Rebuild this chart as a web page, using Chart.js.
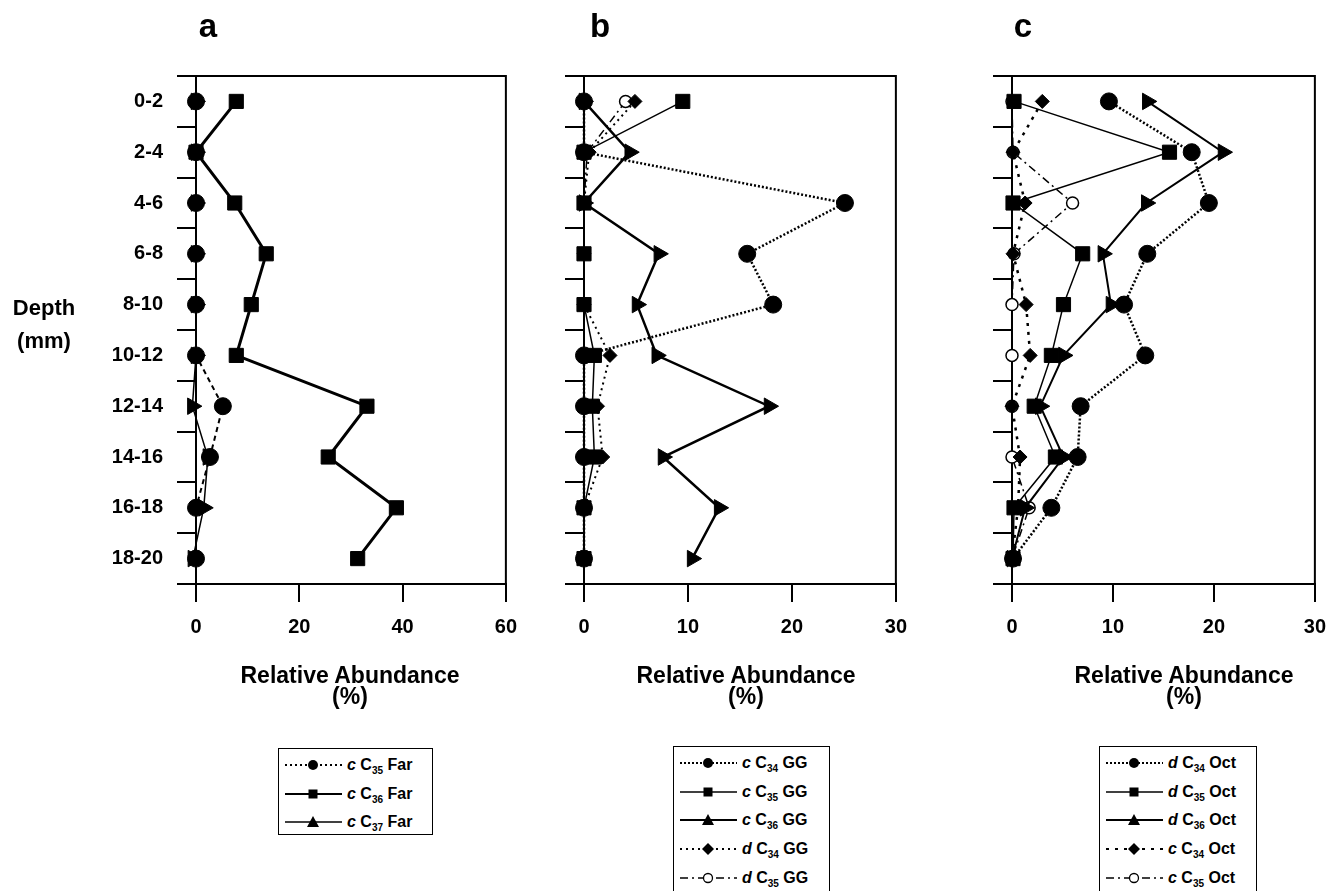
<!DOCTYPE html>
<html>
<head>
<meta charset="utf-8">
<script src="https://cdn.jsdelivr.net/npm/chart.js@4.4.1/dist/chart.umd.min.js"></script>
<style>
    body { margin: 0; background: #fff; }
    #page { position: relative; width: 1339px; height: 891px; overflow: hidden; background: #fff;
            font-family: "Liberation Sans", Arial, sans-serif; font-weight: bold; color: #000; }
    canvas { position: absolute; top: 0; }
    .txt { position: absolute; white-space: nowrap; line-height: 1; transform: translateX(-50%); text-align: center; }
    .letter { font-size: 33px; }
    .big { font-size: 22px; }
    .xtitle { font-size: 23px; line-height: 21px; }
    .legend { position: absolute; border: 1.5px solid #000; background: #fff; box-sizing: border-box; }
    .row { position: absolute; left: 0; height: 22px; display: flex; align-items: center; }
    .row svg { display: block; flex: none; }
    .row span { font-size: 16px; line-height: 1; margin-left: 4px; }
    .row sub { font-size: 10px; line-height: 0; vertical-align: -4px; }
</style>
</head>
<body>
<div id="page">
    <canvas id="chartA" width="530" height="720" style="left:0px"></canvas>
    <canvas id="chartB" width="380" height="720" style="left:540px"></canvas>
    <canvas id="chartC" width="379" height="720" style="left:960px"></canvas>

    <div class="txt letter" style="left:208px;top:9px">a</div>
    <div class="txt letter" style="left:600px;top:9px">b</div>
    <div class="txt letter" style="left:1023px;top:9px">c</div>

    <div class="txt big" style="left:44px;top:297px">Depth</div>
    <div class="txt big" style="left:44px;top:330px">(mm)</div>

    <div class="txt xtitle" style="left:350px;top:665px">Relative Abundance<br>(%)</div>
    <div class="txt xtitle" style="left:746px;top:665px">Relative Abundance<br>(%)</div>
    <div class="txt xtitle" style="left:1184px;top:665px">Relative Abundance<br>(%)</div>
</div>

<script>
// --- Data ---
const depthLabels = ['0-2', '2-4', '4-6', '6-8', '8-10', '10-12', '12-14', '14-16', '16-18', '18-20'];

// panel a
const farC35 = [0, 0, 0, 0, 0, 0, 5.2, 2.7, 0, 0];
const farC36 = [7.8, 0, 7.5, 13.6, 10.7, 7.8, 33.1, 25.6, 38.8, 31.3];
const farC37 = [0, 0, 0, 0, 0, 0, -0.7, 2.3, 1.5, -0.6];

// panel b
const ggC34c = [0, 0, 25.1, 15.7, 18.2, 0, 0, 0, 0, 0];
const ggC35c = [9.5, 0, 0, 0, 0, 1.0, 0.8, 1.0, 0, 0];
const ggC36c = [0, 4.4, 0, 7.2, 5.1, 7.0, 17.8, 7.6, 13.0, 10.4];
const ggC34d = [4.9, 0.5, 0, 0, 0, 2.5, 1.3, 1.8, 0, 0];
const ggC35d = [4.0, 0.3, 0, 0, 0, 0, 0, 0, 0, 0];

// panel c
const octC34d = [9.6, 17.8, 19.5, 13.4, 11.1, 13.2, 6.8, 6.5, 3.9, 0.1];
const octC35d = [0.2, 15.6, 0.1, 7.0, 5.1, 3.9, 2.2, 4.3, 0.2, 0.1];
const octC36d = [13.4, 20.9, 13.3, 9.0, 9.8, 5.1, 2.8, 5.1, 1.3, 0];
const octC34c = [3.0, 0.1, 1.3, 0.1, 1.4, 1.8, 0, 0.8, 0.6, 0];
const octC35c = [0, 0.1, 6.0, 0.2, 0, 0, 0, 0, 1.7, 0];

const ticksA = [0, 20, 40, 60];
const ticksBC = [0, 10, 20, 30];

// --- Layout ---
const AREA_TOP = 76;
const AREA_BOTTOM = 584;
const CANVAS_H = 720;
const tickFont = { family: '"Liberation Sans", Arial, sans-serif', size: 20, weight: 'bold' };

// series styles
const S = {
    circle:  { pointStyle: 'circle', r: 8.5, fill: '#000' },
    square:  { pointStyle: 'rect', r: 10, fill: '#000' },
    tri:     { pointStyle: 'triangle', r: 9.5, fill: '#000', rot: 90 },
    diamond: { pointStyle: 'rectRot', r: 7, fill: '#000' },
    open:    { pointStyle: 'circle', r: 6, fill: '#fff' }
};

// top + right edges of the frame
const frameLines = {
    id: 'frameLines',
    afterDraw(chart) {
        const { ctx, chartArea: a } = chart;
        ctx.save();
        ctx.strokeStyle = '#000';
        ctx.lineWidth = 2;
        ctx.beginPath();
        ctx.moveTo(a.left - 1, a.top);
        ctx.lineTo(a.right, a.top);
        ctx.lineTo(a.right, a.bottom);
        ctx.stroke();
        ctx.restore();
    }
};

function toDataset(s) {
    return {
        label: s.label,
        data: s.data,
        borderColor: '#000',
        borderWidth: s.width,
        borderDash: s.dash,
        pointStyle: s.marker.pointStyle,
        pointRadius: s.marker.r,
        pointHoverRadius: s.marker.r,
        pointRotation: s.marker.rot || 0,
        pointBackgroundColor: s.marker.fill,
        pointBorderColor: '#000',
        pointBorderWidth: s.marker.fill === '#fff' ? 1.5 : 1,
        tension: 0,
        fill: false,
        clip: false
    };
}

function makePanel(canvasId, left, width, areaLeft, areaRight, xMax, xTicks, series, showY) {
    const ctx = document.getElementById(canvasId).getContext('2d');
    return new Chart(ctx, {
        type: 'line',
        data: {
            labels: depthLabels,
            datasets: series.map(toDataset)
        },
        plugins: [frameLines],
        options: {
            indexAxis: 'y',
            responsive: false,
            animation: false,
            devicePixelRatio: 1,
            layout: {
                autoPadding: false,
                padding: { top: AREA_TOP, left: 0, bottom: 0, right: (left + width) - areaRight }
            },
            plugins: { legend: { display: false }, tooltip: { enabled: false } },
            scales: {
                x: {
                    type: 'linear',
                    min: 0,
                    max: xMax,
                    afterBuildTicks: function (scale) { scale.ticks = xTicks.map(v => ({ value: v })); },
                    afterFit: function (scale) { scale.height = CANVAS_H - AREA_BOTTOM; },
                    grid: { drawOnChartArea: false, tickLength: 18, color: '#000', tickColor: '#000', lineWidth: 2 },
                    border: { color: '#000', width: 2 },
                    ticks: { color: '#000', font: tickFont, padding: 13, maxRotation: 0 }
                },
                y: {
                    type: 'category',
                    offset: true,
                    afterFit: function (scale) { scale.width = areaLeft - left; },
                    grid: { offset: true, drawOnChartArea: false, tickLength: 19, color: '#000', tickColor: '#000', lineWidth: 2 },
                    border: { color: '#000', width: 2 },
                    ticks: { display: showY, color: '#000', font: tickFont, padding: 14 }
                }
            }
        }
    });
}

const seriesA = [
    { label: ['c', '35', 'Far'], data: farC35, marker: S.circle, width: 2, dash: [5, 4], legendDash: [2, 3] },
    { label: ['c', '36', 'Far'], data: farC36, marker: S.square, width: 3, dash: [] },
    { label: ['c', '37', 'Far'], data: farC37, marker: S.tri, width: 1.5, dash: [] }
];
const seriesB = [
    { label: ['c', '34', 'GG'], data: ggC34c, marker: S.circle, width: 2.5, dash: [2, 2] },
    { label: ['c', '35', 'GG'], data: ggC35c, marker: S.square, width: 1.5, dash: [] },
    { label: ['c', '36', 'GG'], data: ggC36c, marker: S.tri, width: 2.5, dash: [] },
    { label: ['d', '34', 'GG'], data: ggC34d, marker: S.diamond, width: 2, dash: [2, 4] },
    { label: ['d', '35', 'GG'], data: ggC35d, marker: S.open, width: 1.5, dash: [8, 4, 2, 4] }
];
const seriesC = [
    { label: ['d', '34', 'Oct'], data: octC34d, marker: S.circle, width: 2.5, dash: [2, 2] },
    { label: ['d', '35', 'Oct'], data: octC35d, marker: S.square, width: 1.5, dash: [] },
    { label: ['d', '36', 'Oct'], data: octC36d, marker: S.tri, width: 2, dash: [] },
    { label: ['c', '34', 'Oct'], data: octC34c, marker: S.diamond, width: 2.5, dash: [3, 6] },
    { label: ['c', '35', 'Oct'], data: octC35c, marker: S.open, width: 1.5, dash: [8, 4, 2, 4] }
];

makePanel('chartA', 0, 530, 196, 510, 60, ticksA, seriesA, true);
makePanel('chartB', 540, 380, 584, 897, 30, ticksBC, seriesB, false);
makePanel('chartC', 960, 379, 1012, 1322, 30, ticksBC, seriesC, false);

// --- Legends (boxed, below each panel) ---
function markerSvg(m, cx, cy) {
    if (m.pointStyle === 'rect') return `<rect x="${cx - 4.5}" y="${cy - 4.5}" width="9" height="9" fill="#000"/>`;
    if (m.pointStyle === 'triangle') return `<polygon points="${cx},${cy - 6} ${cx + 6},${cy + 5} ${cx - 6},${cy + 5}" fill="#000"/>`;
    if (m.pointStyle === 'rectRot') return `<polygon points="${cx},${cy - 6} ${cx + 6},${cy} ${cx},${cy + 6} ${cx - 6},${cy}" fill="#000"/>`;
    if (m.fill === '#fff') return `<circle cx="${cx}" cy="${cy}" r="4.5" fill="#fff" stroke="#000" stroke-width="1.3"/>`;
    return `<circle cx="${cx}" cy="${cy}" r="5" fill="#000"/>`;
}

function makeLegend(left, top, width, height, series) {
    const box = document.createElement('div');
    box.className = 'legend';
    box.style.cssText = `left:${left}px;top:${top}px;width:${width}px;height:${height}px`;
    series.forEach(function (s, i) {
        const dash = (s.legendDash || s.dash).join(',');
        const row = document.createElement('div');
        row.className = 'row';
        row.style.top = (5 + i * 28.7) + 'px';
        row.innerHTML =
            `<svg width="64" height="22"><line x1="6" y1="11" x2="63" y2="11" stroke="#000" stroke-width="${Math.min(s.width, 2)}"` +
            (dash ? ` stroke-dasharray="${dash}"` : '') + `/>` + markerSvg(s.marker, 34, 11) + `</svg>` +
            `<span><i>${s.label[0]}</i> C<sub>${s.label[1]}</sub> ${s.label[2]}</span>`;
        box.appendChild(row);
    });
    document.getElementById('page').appendChild(box);
}

makeLegend(278, 748, 155, 87, seriesA);
makeLegend(673, 746, 157, 170, seriesB);
makeLegend(1099, 746, 158, 170, seriesC);
</script>
</body>
</html>
